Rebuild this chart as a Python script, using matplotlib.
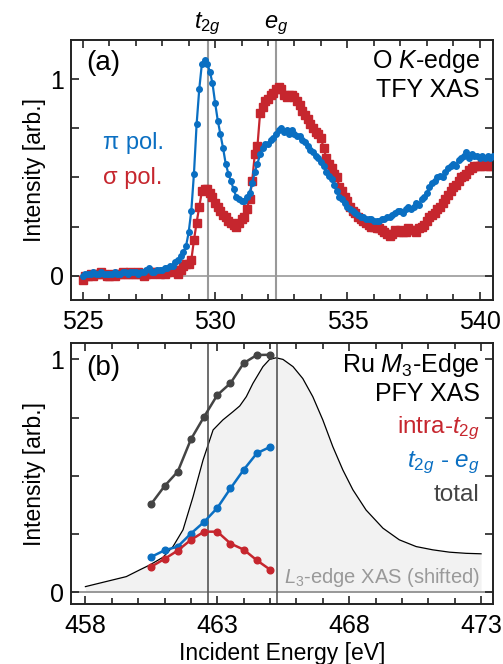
import matplotlib
matplotlib.use("Agg")
import matplotlib.pyplot as plt
import numpy as np
from matplotlib.ticker import MultipleLocator, FixedLocator, FixedFormatter

plt.rcParams['font.family'] = ['Liberation Sans', 'DejaVu Sans']
plt.rcParams['mathtext.fontset'] = 'custom'
plt.rcParams['mathtext.rm'] = 'Liberation Sans'
plt.rcParams['mathtext.it'] = 'Liberation Sans:italic'

BLUE = '#0a6fc2'
RED = '#c6262e'
DARK = '#444444'

# ---- panel (a): O K-edge TFY XAS, 0.1 eV steps from 525.0 to 540.5 ----
energy_a = np.round(np.arange(525.0, 540.51, 0.1), 1)

pi_pol = [
    0.00, 0.01, 0.01, 0.01, 0.02, 0.01, 0.01, 0.02, 0.01, 0.01,
    0.01, 0.01, 0.02, 0.01, 0.01, 0.02, 0.02, 0.01, 0.02, 0.02,
    0.02, 0.01, 0.02, 0.02, 0.03, 0.04, 0.02, 0.02, 0.03, 0.03,
    0.03, 0.04, 0.04, 0.05, 0.05, 0.07, 0.08, 0.10, 0.12, 0.15,
    0.22, 0.33, 0.52, 0.77, 0.95, 1.08, 1.10, 1.08, 1.04, 0.98,
    0.88, 0.79, 0.72, 0.65, 0.57, 0.52, 0.48, 0.44, 0.40, 0.39,
    0.38, 0.38, 0.40, 0.42, 0.47, 0.53, 0.57, 0.62, 0.65, 0.67,
    0.67, 0.69, 0.70, 0.72, 0.74, 0.75, 0.73, 0.74, 0.72, 0.74,
    0.72, 0.71, 0.71, 0.69, 0.68, 0.66, 0.64, 0.63, 0.61, 0.60,
    0.58, 0.56, 0.53, 0.51, 0.49, 0.46, 0.43, 0.40, 0.39, 0.37,
    0.35, 0.34, 0.33, 0.32, 0.31, 0.30, 0.30, 0.29, 0.29, 0.29,
    0.28, 0.28, 0.28, 0.29, 0.29, 0.30, 0.30, 0.31, 0.32, 0.33,
    0.33, 0.32, 0.34, 0.35, 0.34, 0.35, 0.37, 0.36, 0.39, 0.40,
    0.42, 0.45, 0.47, 0.48, 0.50, 0.51, 0.50, 0.53, 0.55, 0.56,
    0.57, 0.56, 0.59, 0.60, 0.61, 0.63, 0.60, 0.62, 0.61, 0.61,
    0.60, 0.61, 0.60, 0.61, 0.60, 0.61,
]

sigma_pol = [
    -0.02, 0.00, 0.00, 0.01, 0.00, 0.01, 0.01, 0.02, 0.01, 0.00,
    0.00, 0.01, 0.00, 0.01, 0.01, 0.02, 0.01, 0.01, 0.02, 0.01,
    0.01, 0.02, 0.01, 0.00, 0.01, 0.02, 0.01, 0.02, 0.02, 0.01,
    0.02, 0.01, 0.02, 0.03, 0.02, 0.03, 0.01, 0.03, 0.05, 0.06,
    0.06, 0.08, 0.18, 0.27, 0.35, 0.43, 0.44, 0.44, 0.42, 0.40,
    0.37, 0.35, 0.33, 0.31, 0.30, 0.28, 0.27, 0.26, 0.25, 0.27,
    0.29, 0.30, 0.34, 0.39, 0.48, 0.62, 0.66, 0.83, 0.86, 0.89,
    0.90, 0.92, 0.93, 0.95, 0.96, 0.95, 0.92, 0.91, 0.92, 0.92,
    0.91, 0.89, 0.87, 0.84, 0.82, 0.80, 0.77, 0.75, 0.73, 0.72,
    0.70, 0.65, 0.60, 0.57, 0.55, 0.52, 0.50, 0.45, 0.43, 0.40,
    0.38, 0.35, 0.33, 0.32, 0.30, 0.29, 0.28, 0.27, 0.26, 0.25,
    0.25, 0.24, 0.24, 0.23, 0.22, 0.21, 0.20, 0.21, 0.23, 0.22,
    0.23, 0.22, 0.22, 0.24, 0.23, 0.23, 0.22, 0.24, 0.25, 0.26,
    0.28, 0.30, 0.31, 0.32, 0.34, 0.35, 0.37, 0.39, 0.41, 0.43,
    0.45, 0.46, 0.48, 0.50, 0.51, 0.52, 0.54, 0.55, 0.56, 0.56,
    0.56, 0.57, 0.56, 0.57, 0.56, 0.56,
]

t2g_a, eg_a = 529.72, 532.31

# ---- panel (b): Ru M3-edge PFY XAS ----
energy_b = [460.5, 461.0, 461.5, 462.0, 462.5, 463.0, 463.5, 464.0, 464.5, 465.0]
total = [0.38, 0.456, 0.518, 0.657, 0.754, 0.847, 0.898, 0.984, 1.019, 1.02]
t2g_eg = [0.152, 0.18, 0.196, 0.252, 0.302, 0.362, 0.446, 0.526, 0.597, 0.624]
intra_t2g = [0.11, 0.143, 0.179, 0.225, 0.26, 0.26, 0.209, 0.183, 0.137, 0.097]

l3_energy = [458.0, 458.54, 459.55, 460.06, 460.44, 460.94, 461.32, 461.70, 462.08,
             462.46, 462.84, 463.21, 463.59, 463.85, 464.10, 464.35, 464.73, 464.98,
             465.23, 465.49, 465.87, 466.24, 466.62, 467.0, 467.38, 467.76, 468.14,
             468.64, 469.28, 469.9, 470.54, 471.17, 471.8, 472.43, 473.0]
l3_xas = [0.024, 0.039, 0.067, 0.096, 0.117, 0.150, 0.196, 0.268, 0.41,
          0.568, 0.697, 0.74, 0.775, 0.80, 0.84, 0.897, 0.969, 1.0,
          1.007, 1.0, 0.969, 0.918, 0.84, 0.74, 0.625, 0.525, 0.44,
          0.353, 0.275, 0.225, 0.196, 0.182, 0.172, 0.167, 0.165]

t2g_b, eg_b = 462.64, 465.25

xticks_a = [525, 530, 535, 540]
xticks_b = [458, 463, 468, 473]

fig = plt.figure(figsize=(5.03, 6.64), dpi=100)
ax_a = fig.add_axes([0.141, 0.548, 0.839, 0.3916])
ax_b = fig.add_axes([0.141, 0.0899, 0.839, 0.393])


def style_axes(ax, xticks):
    for sp in ax.spines.values():
        sp.set_linewidth(1.4)
        sp.set_color('#222222')
    ax.yaxis.set_major_locator(FixedLocator([0, 0.25, 0.5, 0.75, 1.0]))
    ax.yaxis.set_major_formatter(FixedFormatter(['0', '', '', '', '1']))
    ax.set_xticks(xticks)
    ax.xaxis.set_minor_locator(MultipleLocator(1))
    ax.tick_params(which='both', direction='in', top=True, right=True,
                   labelsize=18, width=1.2, color='#222222')
    ax.tick_params(axis='x', pad=7)
    ax.tick_params(axis='y', pad=5)
    ax.tick_params(which='major', length=6)
    ax.tick_params(which='minor', length=4)
    ax.set_ylabel('Intensity [arb.]', fontsize=16.5, labelpad=3)


# panel (a)
ax_a.axhline(0, color='#999999', lw=1.2, zorder=1)
ax_a.axvline(t2g_a, color='#999999', lw=1.5, zorder=1)
ax_a.axvline(eg_a, color='#999999', lw=1.5, zorder=1)
ax_a.plot(energy_a, sigma_pol, '-s', color=RED, ms=5.8, lw=1.6, zorder=2)
ax_a.plot(energy_a, pi_pol, '-o', color=BLUE, ms=4.0, lw=1.6, zorder=3)
ax_a.set_xlim(524.55, 540.5)
ax_a.set_ylim(-0.125, 1.2)
style_axes(ax_a, xticks_a)

ax_a.text(0.036, 0.912, '(a)', transform=ax_a.transAxes, fontsize=20, va='center')
ax_a.text(0.969, 0.919, 'O $K$-edge', transform=ax_a.transAxes, fontsize=18,
          va='center', ha='right')
ax_a.text(0.969, 0.808, 'TFY XAS', transform=ax_a.transAxes, fontsize=18,
          va='center', ha='right')
ax_a.text(0.076, 0.604, 'π pol.', transform=ax_a.transAxes, fontsize=17,
          va='center', color=BLUE)
ax_a.text(0.076, 0.469, 'σ pol.', transform=ax_a.transAxes, fontsize=17,
          va='center', color=RED)
ax_a.text(t2g_a, 1.215, '$t_{2g}$', fontsize=17, ha='center', va='bottom')
ax_a.text(eg_a, 1.215, '$e_g$', fontsize=17, ha='center', va='bottom')

# panel (b)
ax_b.fill_between(l3_energy, 0, l3_xas, color='#f2f2f2', lw=0, zorder=0)
ax_b.plot(l3_energy, l3_xas, color='black', lw=0.9, zorder=1)
ax_b.axhline(0, color='#888888', lw=1.2, zorder=1)
ax_b.axvline(t2g_b, color='#555555', lw=1.2, zorder=1)
ax_b.axvline(eg_b, color='#555555', lw=1.2, zorder=1)
ax_b.plot(energy_b, total, '-o', color=DARK, ms=4.8, lw=1.8, zorder=3)
ax_b.plot(energy_b, t2g_eg, '-o', color=BLUE, ms=4.8, lw=1.8, zorder=3)
ax_b.plot(energy_b, intra_t2g, '-o', color=RED, ms=4.8, lw=1.8, zorder=3)
ax_b.set_xlim(457.45, 473.45)
ax_b.set_ylim(-0.052, 1.069)
style_axes(ax_b, xticks_b)
ax_b.set_xlabel('Incident Energy [eV]', fontsize=16.5, labelpad=3)

ax_b.text(0.036, 0.905, '(b)', transform=ax_b.transAxes, fontsize=20, va='center')
ax_b.text(0.969, 0.917, 'Ru $M_3$-Edge', transform=ax_b.transAxes, fontsize=18,
          va='center', ha='right')
ax_b.text(0.969, 0.806, 'PFY XAS', transform=ax_b.transAxes, fontsize=18,
          va='center', ha='right')
ax_b.text(0.969, 0.675, 'intra-$t_{2g}$', transform=ax_b.transAxes, fontsize=17.5,
          va='center', ha='right', color=RED)
ax_b.text(0.969, 0.541, '$t_{2g}$ - $e_g$', transform=ax_b.transAxes, fontsize=17.5,
          va='center', ha='right', color=BLUE)
ax_b.text(0.969, 0.419, 'total', transform=ax_b.transAxes, fontsize=17.5,
          va='center', ha='right', color=DARK)
ax_b.text(0.969, 0.103, '$L_3$-edge XAS (shifted)', transform=ax_b.transAxes,
          fontsize=14.5, va='center', ha='right', color='#999999')

fig.savefig('out.png', dpi=100)
